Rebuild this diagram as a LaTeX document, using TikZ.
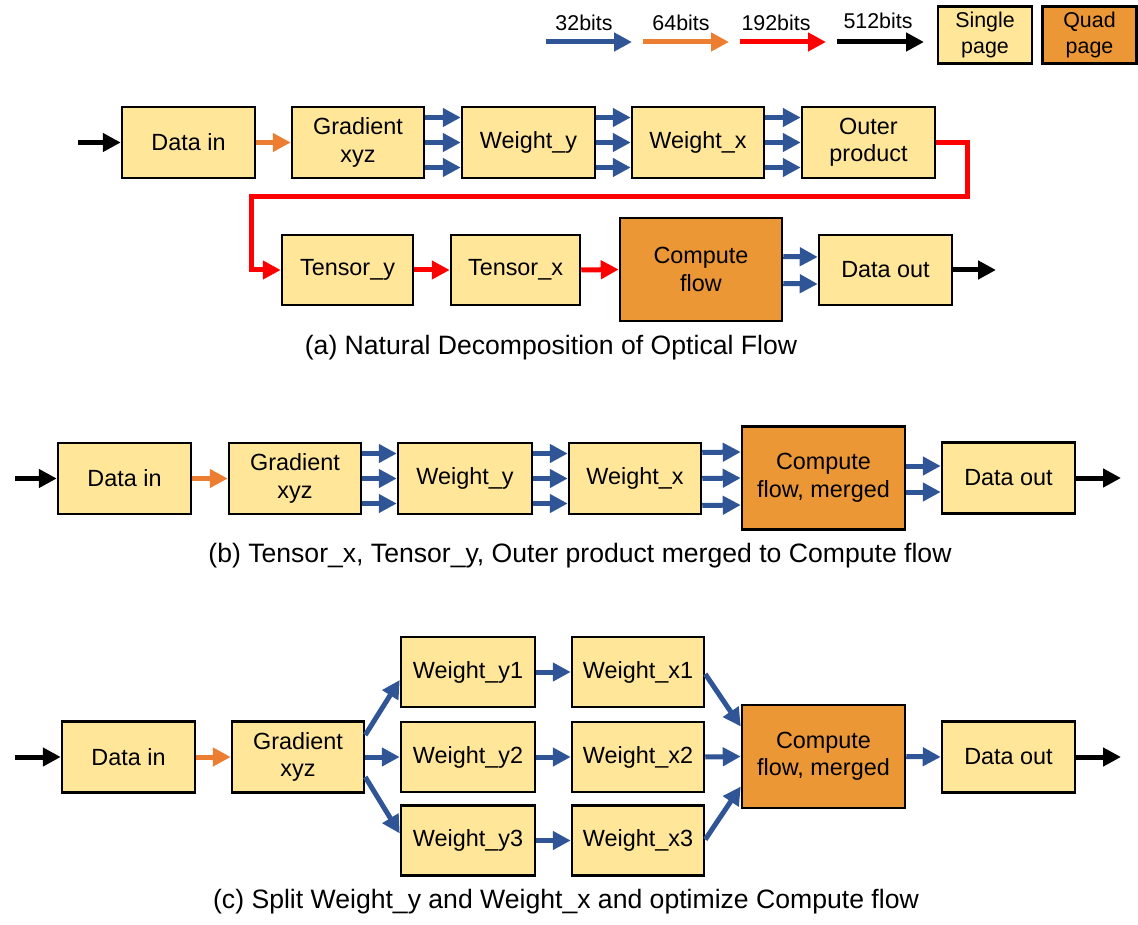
\documentclass[tikz,border=0pt]{standalone}
\usepackage{fontspec}
\setmainfont{Liberation Sans}
\usetikzlibrary{arrows.meta}

\definecolor{pageyellow}{HTML}{FFE699}
\definecolor{pageorange}{HTML}{EC9735}
\definecolor{busblue}{HTML}{2F5597}
\definecolor{busorange}{HTML}{ED7D31}
\definecolor{busred}{HTML}{FF0000}

\newcommand{\legtext}[1]{\raisebox{-2.5pt}{\parbox{90pt}{\centering #1}}}

\tikzset{
  box/.style={draw=black, line width=2.5pt, fill=pageyellow, align=center,
    inner sep=0pt, minimum width=133pt, minimum height=71pt,
    font=\fontsize{23.4}{27.5}\selectfont},
  bigbox/.style={box, fill=pageorange, minimum width=163pt, minimum height=103pt},
  legbox/.style={box, minimum width=94pt, minimum height=57pt,
    font=\fontsize{21.4}{26}\selectfont},
  bus/.style={line width=5pt, -{Triangle[length=18pt,width=18pt]}},
  w32/.style={bus, draw=busblue},
  w64/.style={bus, draw=busorange},
  w192/.style={bus, draw=busred},
  w512/.style={bus, draw=black},
  caption/.style={font=\fontsize{26.6}{30}\selectfont},
  leglabel/.style={font=\fontsize{21.4}{25}\selectfont},
}

\begin{document}
\begin{tikzpicture}[x=1pt, y=-1pt]
\useasboundingbox (0,0) rectangle (1138,925);

% ---------- legend ----------
\coordinate (l1a) at (546,42);  \coordinate (l1b) at (632,42);
\coordinate (l2a) at (643,42);  \coordinate (l2b) at (729,42);
\coordinate (l3a) at (740,42);  \coordinate (l3b) at (826,42);
\coordinate (l4a) at (837,42);  \coordinate (l4b) at (924,42);
\draw[w32]  (l1a) -- (l1b);
\draw[w64]  (l2a) -- (l2b);
\draw[w192] (l3a) -- (l3b);
\draw[w512] (l4a) -- (l4b);
\node[leglabel] (t32)  at (584,23) {32bits};
\node[leglabel] (t64)  at (681,23) {64bits};
\node[leglabel] (t192) at (776,23) {192bits};
\node[leglabel] (t512) at (878,21) {512bits};
\node[legbox] (single) at (985,35) {\legtext{Single\\page}};
\node[legbox, fill=pageorange] (quad) at (1089.5,35) {\legtext{Quad\\page}};

% ---------- (a) natural decomposition ----------
\coordinate (ain) at (78,142.5);
\node[box] (adi) at (188.5,142.5) {Data in};
\node[box, minimum width=132pt] (agr) at (358,142.5) {Gradient\\xyz};
\node[box] (awy) at (528.5,142.5) {Weight\_y};
\node[box, minimum width=132pt] (awx) at (698,142.5) {Weight\_x};
\node[box] (aop) at (868.5,142.5) {Outer\\product};

\node[box, minimum width=131pt, minimum height=70pt] (aty) at (347.5,270) {Tensor\_y};
\node[box, minimum width=129pt, minimum height=70pt] (atx) at (515.5,270) {Tensor\_x};
\node[bigbox, minimum width=162pt] (acf) at (701,269.5) {Compute\\flow};
\node[box, minimum height=70pt] (ado) at (885.5,270) {Data out};
\coordinate (aout) at (996,270);

\draw[w512] (ain) -- (adi.west);
\draw[w64] (adi.east) -- (agr.west);
\foreach \dy in {25,0,-25} {
  \draw[w32] ([yshift=\dy pt]agr.east) -- ([yshift=\dy pt]awy.west);
  \draw[w32] ([yshift=\dy pt]awy.east) -- ([yshift=\dy pt]awx.west);
  \draw[w32] ([yshift=\dy pt]awx.east) -- ([yshift=\dy pt]aop.west);
}
\coordinate (r1) at (967,197);
\coordinate (r2) at (251,197);
\draw[w192] (aop.east) -| (r1) -- (r2) |- (aty.west);
\draw[w192] (aty.east) -- (atx.west);
\draw[w192] (atx.east) -- (acf.west);
\foreach \dy in {13,-14} {
  \draw[w32] ([yshift=\dy pt]acf.east) -- ([yshift=\dy pt]ado.west);
}
\draw[w512] (ado.east) -- (aout);

\node[caption] (capa) at (551,348) {(a) Natural Decomposition of Optical Flow};

% ---------- (b) merged compute flow ----------
\coordinate (bin) at (15,478.5);
\node[box] (bdi) at (124.5,478.5) {Data in};
\node[box, minimum width=132pt] (bgr) at (295,478.5) {Gradient\\xyz};
\node[box, minimum width=134pt] (bwy) at (465,478.5) {Weight\_y};
\node[box, minimum width=132pt] (bwx) at (635,478.5) {Weight\_x};
\node[bigbox] (bcf) at (823.5,478) {Compute\\flow, merged};
\node[box] (bdo) at (1008.5,478) {Data out};
\coordinate (bout) at (1121,478);

\draw[w512] (bin) -- (bdi.west);
\draw[w64] (bdi.east) -- (bgr.west);
\foreach \dy in {25,0,-25} {
  \draw[w32] ([yshift=\dy pt]bgr.east) -- ([yshift=\dy pt]bwy.west);
  \draw[w32] ([yshift=\dy pt]bwy.east) -- ([yshift=\dy pt]bwx.west);
}
\foreach \dy in {26,0,-27} {
  \draw[w32] ([yshift=\dy pt]bwx.east) -- ([yshift=\dy pt]bcf.west);
}
\foreach \dy in {12,-14} {
  \draw[w32] ([yshift=\dy pt]bcf.east) -- ([yshift=\dy pt]bdo.west);
}
\draw[w512] (bdo.east) -- (bout);

\node[caption] (capb) at (580,556) {(b) Tensor\_x, Tensor\_y, Outer product merged to Compute flow};

% ---------- (c) split weights ----------
\coordinate (cin) at (15,757);
\node[box] (cdi) at (128.5,757) {Data in};
\node[box, minimum width=132pt] (cgr) at (298,757) {Gradient\\xyz};
\node[box, minimum width=134pt, minimum height=70pt] (cwy1) at (468,672) {Weight\_y1};
\node[box, minimum width=134pt, minimum height=70pt] (cwy2) at (468,757) {Weight\_y2};
\node[box, minimum width=134pt, minimum height=70pt] (cwy3) at (468,840.5) {Weight\_y3};
\node[box, minimum width=132pt, minimum height=70pt] (cwx1) at (638,672) {Weight\_x1};
\node[box, minimum width=132pt, minimum height=70pt] (cwx2) at (638,757) {Weight\_x2};
\node[box, minimum width=132pt, minimum height=70pt] (cwx3) at (638,840.5) {Weight\_x3};
\node[bigbox] (ccf) at (823.5,756.5) {Compute\\flow, merged};
\node[box] (cdo) at (1008.5,757) {Data out};
\coordinate (cout) at (1121,757);

\draw[w512] (cin) -- (cdi.west);
\draw[w64] (cdi.east) -- (cgr.west);
\draw[w32] ([yshift=22pt]cgr.east) -- ([yshift=-8pt]cwy1.west);
\draw[w32] (cgr.east) -- (cwy2.west);
\draw[w32] ([yshift=-20pt]cgr.east) -- ([yshift=7pt]cwy3.west);
\draw[w32] (cwy1.east) -- (cwx1.west);
\draw[w32] (cwy2.east) -- (cwx2.west);
\draw[w32] (cwy3.east) -- (cwx3.west);
\draw[w32] ([yshift=-2pt]cwx1.east) -- ([yshift=30pt]ccf.west);
\draw[w32] (cwx2.east) -- (ccf.west);
\draw[w32] ([yshift=1pt]cwx3.east) -- ([yshift=-30pt]ccf.west);
\draw[w32] (ccf.east) -- (cdo.west);
\draw[w512] (cdo.east) -- (cout);

\node[caption] (capc) at (566,902) {(c) Split Weight\_y and Weight\_x and optimize Compute flow};
\end{tikzpicture}
\end{document}
